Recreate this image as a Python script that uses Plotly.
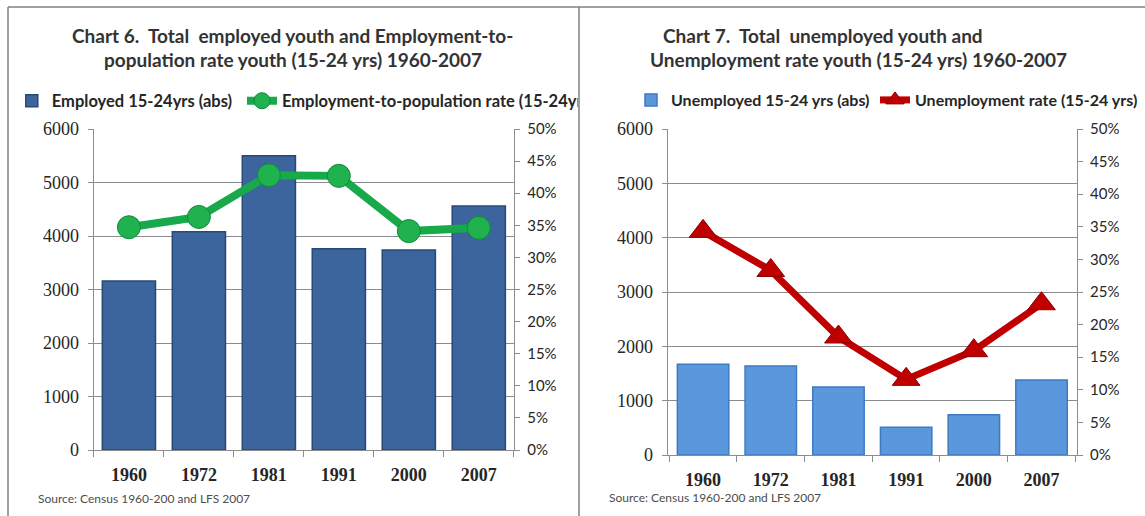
import plotly.graph_objects as go

# ---- data -------------------------------------------------------------
years = ["1960", "1972", "1981", "1991", "2000", "2007"]

employed_abs = [3160, 4080, 5500, 3760, 3740, 4560]
employment_rate = [34.7, 36.3, 42.8, 42.7, 34.1, 34.6]

unemployed_abs = [1670, 1640, 1250, 510, 740, 1380]
unemployment_rate = [34.3, 28.3, 18.1, 11.6, 16.0, 23.2]

left_ticks = [0, 1000, 2000, 3000, 4000, 5000, 6000]
pct_ticks = list(range(0, 55, 5))
pct_labels = [f"{v}%" for v in pct_ticks]

W, H = 1145, 516


def px(x):
    return x / W


def py(y):
    return 1 - y / H


TEXT = "#262626"
GRID = "#8c8c8c"
SANS = "Lato"
SERIF = "Liberation Serif"

fig = go.Figure()

# ---- chart 6 ----------------------------------------------------------
fig.add_trace(go.Bar(
    x=years, y=employed_abs, name="Employed 15-24yrs (abs)",
    marker=dict(color="#3b659c", line=dict(color="#27497a", width=1.5)),
    xaxis="x", yaxis="y", legend="legend",
))
fig.add_trace(go.Scatter(
    x=years, y=employment_rate, name="Employment-to-population rate (15-24yrs)",
    mode="lines+markers",
    line=dict(color="#17a94a", width=8),
    marker=dict(symbol="circle", size=23, color="#1fb24f",
                line=dict(color="#0e8a3a", width=1)),
    xaxis="x", yaxis="y2", legend="legend2",
))

# ---- chart 7 ----------------------------------------------------------
fig.add_trace(go.Bar(
    x=years, y=unemployed_abs, name="Unemployed 15-24 yrs (abs)",
    marker=dict(color="#5a97dc", line=dict(color="#3f7bc0", width=1.5)),
    xaxis="x2", yaxis="y3", legend="legend3",
))
fig.add_trace(go.Scatter(
    x=years, y=unemployment_rate, name="Unemployment rate (15-24 yrs)",
    mode="lines+markers",
    line=dict(color="#c00000", width=7),
    marker=dict(symbol="triangle-up", size=24, color="#c00000",
                line=dict(color="#8b0000", width=1)),
    xaxis="x2", yaxis="y4", legend="legend4",
))

xcommon = dict(
    type="category", showgrid=False, showline=True, linecolor=GRID, linewidth=1,
    ticks="outside", tickson="boundaries", ticklen=6, tickcolor=GRID,
    tickfont=dict(family=SERIF, size=18, color=TEXT, weight="bold"),
    ticklabelstandoff=8, fixedrange=True,
)
yleft = dict(
    range=[0, 6000], tickvals=left_ticks, showgrid=True, gridcolor=GRID,
    gridwidth=1, showline=True, linecolor=GRID, linewidth=1, zeroline=False,
    ticks="outside", ticklen=5, tickcolor=GRID,
    tickfont=dict(family=SERIF, size=18, color=TEXT), ticklabelstandoff=5,
)
yright = dict(
    range=[0, 50], tickvals=pct_ticks, ticktext=pct_labels, side="right",
    showgrid=False, showline=True, linecolor=GRID, linewidth=1, zeroline=False,
    ticks="outside", ticklen=5, tickcolor=GRID,
    tickfont=dict(family=SANS, size=15, color=TEXT), ticklabelstandoff=4,
)


def legend_at(x_left, y_mid, size, **extra):
    return dict(orientation="h", x=px(x_left), y=py(y_mid), xanchor="left",
                yanchor="middle", bgcolor="rgba(0,0,0,0)", itemwidth=30,
                font=dict(family=SANS, size=size, color=TEXT, weight="bold"),
                **extra)


fig.update_layout(
    width=W, height=H,
    margin=dict(l=0, r=0, t=0, b=0, autoexpand=False),
    paper_bgcolor="white", plot_bgcolor="white",
    bargap=0.24,
    xaxis=dict(domain=[px(93.5), px(514.2)], anchor="y", **xcommon),
    yaxis=dict(domain=[py(450), py(129)], anchor="x", **yleft),
    yaxis2=dict(overlaying="y", anchor="x", **yright),
    xaxis2=dict(domain=[px(667.6), px(1077)], anchor="y3", **xcommon),
    yaxis3=dict(domain=[py(455), py(129)], anchor="x2", **yleft),
    yaxis4=dict(overlaying="y3", anchor="x2", **yright),
    legend=legend_at(11.8, 101, 16.5),
    # the long entry is cut at the panel frame
    legend2=legend_at(242, 101, 16.5, entrywidth=291, entrywidthmode="pixels"),
    legend3=legend_at(631, 100, 16),
    legend4=legend_at(875, 100, 16),
    showlegend=True,
)

# ---- panel frames -----------------------------------------------------
frame = dict(color="#808080", width=1.5)
for x0, y0, x1, y1 in [(8, 7, W, 7), (8, 7, 8, H), (579, 7, 579, H)]:
    fig.add_shape(type="line", xref="paper", yref="paper",
                  x0=px(x0), y0=py(y0), x1=px(x1), y1=py(y1), line=frame)

# ---- titles and source notes -------------------------------------------
title_font = dict(family=SANS, size=19, color="#333333", weight="bold")
titles = [
    ("Chart 6.&nbsp; Total&nbsp; employed youth and Employment-to-", 292, 35, "center"),
    ("population rate youth (15-24 yrs) 1960-2007", 293, 60, "center"),
    ("Chart 7.&nbsp; Total&nbsp; unemployed youth and", 661, 35, "left"),
    ("Unemployment rate youth (15-24 yrs) 1960-2007", 858.4, 59.5, "center"),
]
for text, cx, cy, anchor in titles:
    fig.add_annotation(text=text, xref="paper", yref="paper", x=px(cx), y=py(cy),
                       xanchor=anchor, yanchor="middle", showarrow=False,
                       font=title_font)

for cx, cy in [(36, 498), (607, 497)]:
    fig.add_annotation(text="Source: Census 1960-200 and LFS 2007", xref="paper",
                       yref="paper", x=px(cx), y=py(cy), xanchor="left",
                       yanchor="middle", showarrow=False,
                       font=dict(family=SANS, size=12, color="#4d4d4d"))

fig.write_html("out.html")
